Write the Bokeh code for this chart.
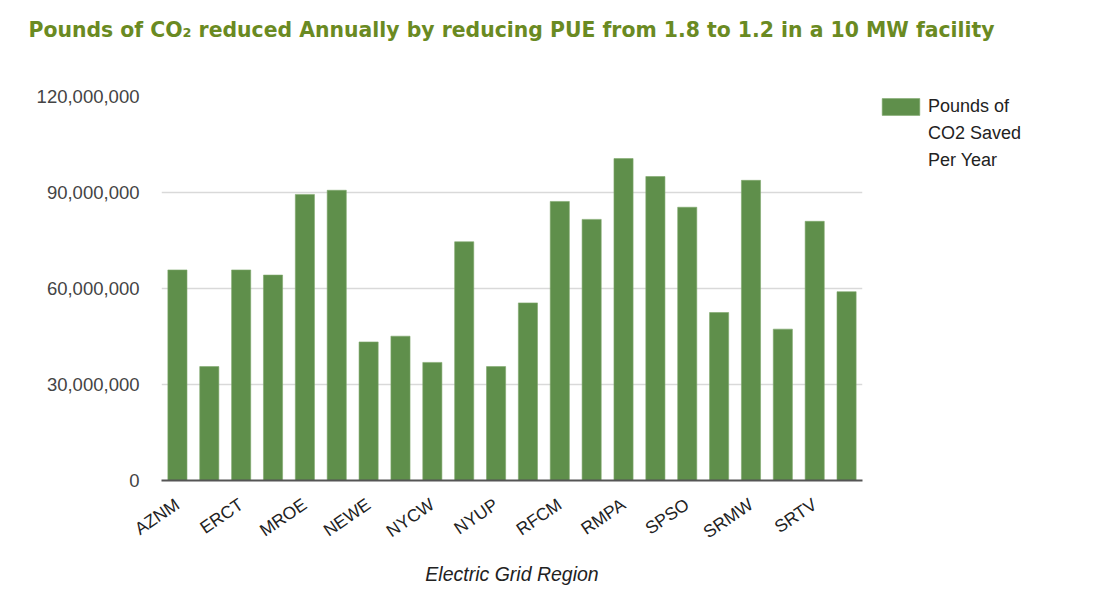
from bokeh.plotting import figure
from bokeh.models import (FixedTicker, NumeralTickFormatter, Legend, LegendItem,
                          ColumnDataSource, Range1d, Title)
from bokeh.embed import file_html
from bokeh.resources import INLINE

regions = ["AZNM", "CAMX", "ERCT", "FRCC", "MROE", "MROW", "NEWE", "NWPP",
           "NYCW", "NYLI", "NYUP", "RFCE", "RFCM", "RFCW", "RMPA", "SPNO",
           "SPSO", "SRMV", "SRMW", "SRSO", "SRTV", "SRVC"]
pounds_saved = [65.8e6, 35.6e6, 65.8e6, 64.2e6, 89.4e6, 90.7e6, 43.3e6, 45.1e6,
                36.9e6, 74.6e6, 35.6e6, 55.5e6, 87.2e6, 81.6e6, 100.6e6, 95.0e6,
                85.4e6, 52.5e6, 93.8e6, 47.3e6, 81.0e6, 59.0e6]
y_ticks = [0, 30e6, 60e6, 90e6, 120e6]
series_lines = ["Pounds of", "CO2 Saved", "Per Year"]
title_text = "Pounds of CO\u2082 reduced Annually by reducing PUE from 1.8 to 1.2 in a 10 MW facility"
x_title = "Electric Grid Region"

GREEN = "#5f8f4b"
FONT = "Liberation Sans"

idx = list(range(len(regions)))
shown = idx[::2]

p = figure(frame_width=701, frame_height=384, output_backend="svg",
           toolbar_location=None,
           x_range=Range1d(-0.5, len(regions) - 0.5), y_range=Range1d(0, 120e6),
           min_border_left=161, min_border_right=215, min_border_top=96,
           min_border_bottom=114)
p.outline_line_color = None

# spacer between frame and title (nearest the frame), then the real title
p.add_layout(Title(text=" ", text_font_size="1px", standoff=52), "above")
p.add_layout(Title(text=title_text, align="left", offset=-133, standoff=0,
                   text_font="DejaVu Sans", text_font_style="bold",
                   text_font_size="20.4px", text_color="#6a8a22"), "above")

src = ColumnDataSource(dict(x=idx, y=pounds_saved, name=regions))
r = p.vbar(x="x", top="y", width=0.6, source=src, fill_color=GREEN,
           line_color="#7fa86c", line_width=0.6)
# invisible renderer used only for the continuation lines of the legend label
blank = p.vbar(x=[], top=[], width=0.6, fill_alpha=0, line_alpha=0)

# y axis
p.yaxis.ticker = FixedTicker(ticks=y_ticks)
p.yaxis.formatter = NumeralTickFormatter(format="0,0")
p.yaxis.axis_line_color = None
p.yaxis.major_tick_line_color = None
p.yaxis.minor_tick_line_color = None
p.yaxis.major_label_standoff = 16
p.yaxis.major_label_text_font = FONT
p.yaxis.major_label_text_font_size = "18.5px"
p.yaxis.major_label_text_color = "#444444"
p.ygrid.grid_line_color = "#d9d9d9"
p.ygrid.grid_line_width = 1.5
p.xgrid.grid_line_color = None

# x axis
p.xaxis.ticker = FixedTicker(ticks=shown)
p.xaxis.major_label_overrides = {i: regions[i] for i in shown}
p.xaxis.axis_line_color = "#555555"
p.xaxis.axis_line_width = 2
p.xaxis.major_tick_line_color = None
p.xaxis.minor_tick_line_color = None
p.xaxis.major_label_orientation = 0.6
p.xaxis.major_label_standoff = 16
p.xaxis.major_label_text_font = FONT
p.xaxis.major_label_text_font_size = "17.5px"
p.xaxis.major_label_text_color = "#222222"
p.xaxis.axis_label = x_title
p.xaxis.axis_label_text_font = FONT
p.xaxis.axis_label_text_font_style = "italic"
p.xaxis.axis_label_text_font_size = "19.5px"
p.xaxis.axis_label_text_color = "#222222"
p.xaxis.axis_label_standoff = 10

# legend
items = [LegendItem(label=series_lines[0], renderers=[r])] + \
        [LegendItem(label=t, renderers=[blank]) for t in series_lines[1:]]
legend = Legend(items=items, location=(15, 309), orientation="vertical",
                glyph_width=47, glyph_height=21, label_standoff=4,
                padding=0, margin=0, spacing=6, border_line_color=None,
                background_fill_alpha=0,
                label_text_font=FONT, label_text_font_size="18px",
                label_text_color="#222222")
p.add_layout(legend, "right")

open("out.html", "w").write(file_html(p, INLINE))
